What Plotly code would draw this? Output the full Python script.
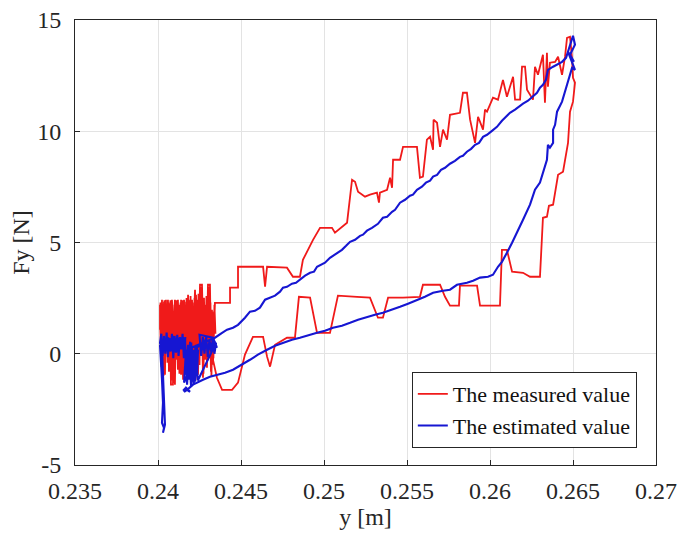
import plotly.graph_objects as go

# ---------------- data ----------------
# Measured value (red): cluster, upper branch, top, lower branch, cluster again
meas_y_pos = [
    0.24012, 0.24012, 0.24018, 0.24024, 0.24030, 0.24036, 0.24042, 0.24048, 0.24054, 0.24060,
    0.24066, 0.24072, 0.24078, 0.24090, 0.24096, 0.24102, 0.24108, 0.24114, 0.24120, 0.24127,
    0.24133, 0.24139, 0.24151, 0.24157, 0.24163, 0.24169, 0.24175, 0.24181, 0.24187, 0.24193,
    0.24199, 0.24205, 0.24211, 0.24223, 0.24229, 0.24235, 0.24241, 0.24247, 0.24253, 0.24265,
    0.24271, 0.24277, 0.24283, 0.24289, 0.24295, 0.24301, 0.24313, 0.24319, 0.24325, 0.24331,
    0.24337, 0.24343,
    # upper branch
    0.24434, 0.24434, 0.24482, 0.24482, 0.24633, 0.24645, 0.24657, 0.24777, 0.24813, 0.24855,
    0.24873, 0.24934, 0.24976, 0.25048, 0.25066, 0.25108, 0.25139, 0.25169, 0.25187, 0.25205,
    0.25247, 0.25277, 0.25319, 0.25331, 0.25337, 0.25380, 0.25398, 0.25410, 0.25416, 0.25458,
    0.25476, 0.25560, 0.25578, 0.25596, 0.25620, 0.25639, 0.25657, 0.25660, 0.25681, 0.25699,
    0.25717, 0.25741, 0.25759, 0.25819, 0.25837, 0.25861, 0.25880, 0.25910, 0.25928, 0.25958,
    0.25970, 0.25982, 0.26018, 0.26048, 0.26078, 0.26102, 0.26139, 0.26151, 0.26181, 0.26193,
    0.26211, 0.26223, 0.26259, 0.26271, 0.26289, 0.26319, 0.26331, 0.26343, 0.26349, 0.26361,
    0.26392, 0.26410, 0.26434, 0.26452, 0.26464, 0.26482, 0.26494, 0.26500, 0.26512, 0.26500,
    0.26482, 0.26470,
    # lower branch
    0.26440, 0.26410, 0.26392, 0.26380, 0.26355, 0.26343, 0.26319, 0.26301, 0.26241, 0.26199,
    0.26133, 0.26102, 0.26072, 0.26060, 0.25940, 0.25922, 0.25819, 0.25813, 0.25759, 0.25729,
    0.25699, 0.25596, 0.25578, 0.25476, 0.25386, 0.25355, 0.25325, 0.25295, 0.25277, 0.25199,
    0.25084, 0.25036, 0.24958, 0.24916, 0.24849, 0.24825, 0.24777, 0.24705, 0.24675, 0.24657,
    0.24633, 0.24572, 0.24524, 0.24482, 0.24446, 0.24386, 0.24355,
    # cluster again (leftwards)
    0.24331, 0.24325, 0.24319, 0.24313, 0.24307, 0.24301, 0.24295, 0.24289, 0.24283, 0.24277,
    0.24271, 0.24265, 0.24259, 0.24253, 0.24247, 0.24241, 0.24235, 0.24229, 0.24223, 0.24217,
    0.24211, 0.24205, 0.24199, 0.24193, 0.24187, 0.24181, 0.24175, 0.24169, 0.24163, 0.24157,
    0.24151, 0.24145, 0.24139, 0.24133, 0.24127, 0.24120, 0.24114, 0.24108, 0.24102, 0.24096,
    0.24084, 0.24078, 0.24072, 0.24066, 0.24060, 0.24054, 0.24048, 0.24042, 0.24036, 0.24030,
    0.24024, 0.24018, 0.24012,
    # cluster once more (rightwards)
    0.24015, 0.24021, 0.24027, 0.24033, 0.24039, 0.24045, 0.24051, 0.24057, 0.24063, 0.24069,
    0.24075, 0.24081, 0.24087, 0.24093, 0.24099, 0.24105, 0.24111, 0.24117, 0.24123, 0.24129,
    0.24136, 0.24142, 0.24148, 0.24154, 0.24160, 0.24166, 0.24172, 0.24178, 0.24184, 0.24190,
    0.24196, 0.24202, 0.24208, 0.24214, 0.24220, 0.24226, 0.24232, 0.24238, 0.24244, 0.24250,
    0.24256, 0.24262, 0.24268, 0.24274, 0.24280, 0.24286, 0.24292, 0.24298, 0.24304, 0.24310,
    0.24316, 0.24322, 0.24328, 0.24334, 0.24340, 0.24346,
]
meas_fy = [
    1.08, 2.20, -0.27, 2.43, 0.40, 2.34, -0.94, 2.20, 0.18, 2.43,
    0.63, 1.98, -1.39, -1.39, 1.53, 2.43, 0.18, 1.53, -0.72, 2.20,
    -0.27, 2.43, -1.17, 1.98, 0.40, 2.34, -0.27, 2.65, 0.63, 2.43,
    -0.72, 2.20, 0.18, 2.88, 0.40, 2.43, -0.94, 1.98, 3.10, 3.10,
    1.08, 2.43, -0.27, 2.20, 0.63, 3.10, 3.10, 0.18, 1.98, -0.49,
    1.53, 2.29,
    # upper branch
    2.29, 2.97, 2.97, 3.91, 3.91, 3.01, 3.91, 3.87, 3.46, 3.46,
    4.22, 5.12, 5.66, 5.66, 5.44, 5.71, 5.89, 7.82, 7.73, 7.28,
    7.06, 7.15, 7.24, 6.79, 7.24, 7.37, 7.91, 7.46, 8.72, 8.72,
    9.30, 9.30, 7.91, 7.96, 9.62, 9.75, 9.17, 10.52, 10.38, 9.30,
    10.07, 9.62, 10.74, 10.83, 11.73, 11.73, 10.52, 9.48, 10.65, 10.07,
    10.97, 10.88, 11.51, 11.42, 12.31, 11.55, 12.45, 11.42, 11.42, 12.90,
    12.90, 11.87, 11.42, 12.90, 12.54, 13.44, 11.28, 13.53, 12.00, 13.08,
    13.12, 13.35, 12.54, 13.35, 14.20, 14.25, 13.30, 12.40, 12.18, 11.33,
    10.88, 9.48,
    # lower branch
    8.18, 8.04, 7.24, 6.70, 6.65, 6.16, 6.11, 3.46, 3.46, 3.64,
    3.69, 4.67, 4.67, 2.16, 2.16, 3.06, 3.06, 2.16, 2.16, 2.56,
    3.10, 3.10, 2.56, 2.52, 2.52, 1.62, 1.62, 2.20, 2.52, 2.56,
    2.61, 0.94, 0.94, 2.52, 2.56, 0.72, 0.72, 0.40, -0.58, -0.13,
    0.76, 0.76, -0.04, -1.30, -1.62, -1.62, -1.08,
    # cluster again (leftwards)
    -0.27, 1.53, -0.81, 2.20, -0.04, 2.43, -0.63, 1.98, 0.40, 2.52,
    -1.08, 1.53, 0.18, 2.43, -0.49, 2.20, 0.63, 2.65, -1.17, 1.75,
    0.40, 2.43, -0.27, 1.98, -0.81, 2.43, 0.63, 2.20, -0.49, 2.43,
    0.18, 1.98, -0.94, 2.20, 0.40, 2.43, -0.27, 1.98, -1.39, 0.63,
    2.43, -0.04, 2.20, -0.81, 1.98, 0.40, 2.43, -0.27, 2.20, 0.63,
    1.98, 0.09, 1.53,
    # cluster once more (rightwards)
    2.30, -0.60, 1.90, -1.00, 2.40, 0.10, 2.10, -0.40, 2.30, 0.90,
    2.40, -1.20, 1.20, -1.30, 2.20, -0.20, 2.40, 0.50, 2.10, -0.90,
    2.30, 0.20, 2.40, -1.10, 1.80, -0.30, 2.50, 0.30, 2.20, -1.00,
    2.60, 0.00, 2.30, -0.70, 2.50, -1.20, 2.20, 0.40, 2.70, -0.50,
    3.00, 0.80, 2.40, -0.90, 2.10, 0.20, 2.60, -0.30, 3.00, 0.60,
    2.30, -1.00, 1.90, -0.20, 2.20, 0.90,
]

# Estimated value (blue): tail, cluster, upper branch, top, lower branch
est_y_pos = [
    # tail
    0.24012, 0.24018, 0.24024, 0.24030, 0.24024, 0.24036, 0.24030, 0.24042, 0.24036, 0.24030,
    0.24024, 0.24012,
    # cluster band
    0.24020, 0.24028, 0.24036, 0.24044, 0.24052, 0.24060, 0.24068, 0.24076, 0.24084, 0.24092,
    0.24100, 0.24108, 0.24116, 0.24124, 0.24132, 0.24140, 0.24148, 0.24156, 0.24164,
    0.24042, 0.24072, 0.24060, 0.24102, 0.24084, 0.24120, 0.24133, 0.24151,
    0.24163, 0.24169, 0.24181, 0.24187, 0.24193, 0.24199, 0.24205, 0.24211, 0.24217, 0.24223,
    0.24229, 0.24235, 0.24241, 0.24157, 0.24169, 0.24175, 0.24187, 0.24199, 0.24211, 0.24223,
    0.24235, 0.24253, 0.24271, 0.24283, 0.24301, 0.24313, 0.24331, 0.24343, 0.24355, 0.24331,
    0.24250, 0.24260, 0.24270, 0.24280, 0.24290, 0.24300, 0.24310, 0.24320, 0.24330, 0.24340,
    0.24350, 0.24240, 0.24225, 0.24215, 0.24200, 0.24190, 0.24180,
    # upper branch
    0.24343, 0.24386, 0.24416, 0.24452, 0.24482, 0.24524, 0.24554, 0.24584, 0.24614, 0.24645,
    0.24675, 0.24705, 0.24735, 0.24753, 0.24777, 0.24807, 0.24831, 0.24855, 0.24886, 0.24916,
    0.24940, 0.24958, 0.24988, 0.25006, 0.25036, 0.25054, 0.25084, 0.25108, 0.25133, 0.25157,
    0.25187, 0.25217, 0.25235, 0.25259, 0.25289, 0.25325, 0.25355, 0.25380, 0.25410, 0.25428,
    0.25458, 0.25488, 0.25518, 0.25536, 0.25560, 0.25590, 0.25614, 0.25639, 0.25657, 0.25681,
    0.25705, 0.25729, 0.25759, 0.25789, 0.25819, 0.25837, 0.25861, 0.25886, 0.25910, 0.25934,
    0.25958, 0.25982, 0.26012, 0.26042, 0.26072, 0.26096, 0.26120, 0.26151, 0.26181, 0.26199,
    0.26229, 0.26259, 0.26283, 0.26301, 0.26319, 0.26337, 0.26349, 0.26380, 0.26410, 0.26434,
    0.26458, 0.26476, 0.26494, 0.26500, 0.26512, 0.26482, 0.26506, 0.26470, 0.26512, 0.26494,
    # lower branch
    0.26464, 0.26434, 0.26404, 0.26392, 0.26380, 0.26380, 0.26361, 0.26349, 0.26343, 0.26313,
    0.26301, 0.26271, 0.26241, 0.26199, 0.26163, 0.26133, 0.26102, 0.26072, 0.26048, 0.26018,
    0.25988, 0.25940, 0.25898, 0.25861, 0.25801, 0.25759, 0.25717, 0.25657, 0.25608, 0.25560,
    0.25506, 0.25458, 0.25410, 0.25355, 0.25307, 0.25259, 0.25205, 0.25157, 0.25108, 0.25054,
    0.25006, 0.24958, 0.24904, 0.24855, 0.24807, 0.24753, 0.24705, 0.24657, 0.24602, 0.24554,
    0.24506, 0.24452, 0.24404, 0.24355, 0.24313, 0.24271, 0.24235, 0.24211, 0.24175, 0.24157,
    0.24169, 0.24193, 0.24163, 0.24151,
]
est_fy = [
    # tail
    0.40, -0.27, -1.17, -2.20, -3.10, -3.33, -3.55, -3.19, -2.07, -0.72,
    0.18, 0.49,
    # cluster band
    0.90, -0.10, 0.80, 0.00, 0.95, -0.15, 0.70, 0.10, 0.90, -0.20,
    0.80, 0.05, 0.85, -0.10, 0.75, 0.20, 0.90, -0.20, 0.70,
    0.63, 0.27, 0.72, 0.40, 0.85, 0.09, 0.63, 0.40,
    0.72, -0.94, 0.40, -1.17, 0.54, -0.81, 0.27, -1.26, 0.18, -0.72,
    0.40, -0.94, 0.18, -1.30, 0.18, -1.39, 0.00, -1.44, -0.04, -1.26,
    0.27, 0.40, 0.18, 0.63, 0.09, 0.40, 0.18, 0.54, 0.27, 0.72,
    0.85, -0.10, 0.75, 0.00, 0.80, -0.15, 0.65, 0.10, 0.70, 0.00,
    0.50, -1.20, 0.30, -1.40, 0.50, -1.10, 0.20,
    # upper branch
    0.72, 0.94, 1.08, 1.17, 1.30, 1.62, 1.89, 1.93, 2.07, 2.43,
    2.52, 2.61, 2.79, 2.97, 3.01, 3.15, 3.19, 3.33, 3.51, 3.64,
    3.69, 3.91, 4.04, 4.09, 4.31, 4.40, 4.58, 4.67, 4.85, 5.03,
    5.12, 5.30, 5.35, 5.53, 5.66, 5.84, 6.11, 6.16, 6.38, 6.47,
    6.79, 6.92, 7.10, 7.15, 7.37, 7.51, 7.69, 7.78, 7.96, 8.04,
    8.27, 8.36, 8.54, 8.67, 8.85, 8.90, 9.08, 9.21, 9.39, 9.48,
    9.75, 9.84, 10.02, 10.20, 10.47, 10.65, 10.83, 10.97, 11.15, 11.24,
    11.37, 11.55, 11.73, 11.96, 12.09, 12.31, 12.76, 12.90, 13.03, 13.12,
    13.30, 13.75, 14.11, 14.29, 13.89, 13.44, 13.12, 13.57, 12.76, 12.85,
    # lower branch
    12.09, 11.33, 10.88, 10.29, 10.07, 9.48, 9.26, 9.39, 8.72, 7.96,
    7.69, 7.37, 6.70, 6.02, 5.44, 4.99, 4.54, 4.13, 3.91, 3.55,
    3.46, 3.42, 3.28, 3.19, 3.10, 2.88, 2.83, 2.74, 2.56, 2.43,
    2.25, 2.11, 1.98, 1.84, 1.75, 1.66, 1.53, 1.39, 1.26, 1.17,
    1.03, 0.94, 0.81, 0.72, 0.63, 0.49, 0.36, 0.18, -0.04, -0.27,
    -0.49, -0.72, -0.85, -0.94, -1.03, -1.17, -1.30, -1.39, -1.62, -1.71,
    -1.53, -1.71, -1.57, -1.66,
]

x_tick_vals = [0.235, 0.24, 0.245, 0.25, 0.255, 0.26, 0.265, 0.27]
x_tick_text = ["0.235", "0.24", "0.245", "0.25", "0.255", "0.26", "0.265", "0.27"]
y_tick_vals = [-5, 0, 5, 10, 15]
y_tick_text = ["-5", "0", "5", "10", "15"]

series_names = ["The measured value", "The estimated value"]
# -------------------------------------------------------------------------

FONT = "Liberation Serif, Times New Roman, serif"
TXT = "#262626"

fig = go.Figure()
fig.add_trace(go.Scatter(x=meas_y_pos, y=meas_fy, mode="lines", name=series_names[0],
                         line=dict(color="#f01a1a", width=1.8)))
fig.add_trace(go.Scatter(x=est_y_pos, y=est_fy, mode="lines", name=series_names[1],
                         line=dict(color="#1616d2", width=2.1)))

axis_common = dict(
    showline=True, linecolor=TXT, linewidth=1, mirror=True,
    ticks="inside", ticklen=5, tickcolor=TXT,
    showgrid=True, gridcolor="#e3e3e3", gridwidth=1,
    zeroline=False, automargin=False, ticklabeloverflow="allow",
    tickfont=dict(family=FONT, size=24, color=TXT),
)

fig.update_layout(
    template="none",
    width=669, height=525,
    margin=dict(l=67, r=21, t=12, b=68),
    paper_bgcolor="white", plot_bgcolor="white",
    font=dict(family=FONT, size=24, color=TXT),
    xaxis=dict(range=[0.235, 0.27], tickvals=x_tick_vals, ticktext=x_tick_text,
               ticklabelstandoff=4,
               title=dict(text="y [m]", font=dict(family=FONT, size=24, color=TXT), standoff=2),
               **axis_common),
    yaxis=dict(range=[-5, 15], tickvals=y_tick_vals, ticktext=y_tick_text,
               ticklabelstandoff=8,
               title=dict(text="Fy [N]", font=dict(family=FONT, size=24, color=TXT), standoff=0),
               **axis_common),
    legend=dict(x=0.967, y=0.038, xanchor="right", yanchor="bottom",
                bgcolor="white", bordercolor="#262626", borderwidth=1,
                font=dict(family=FONT, size=22, color="#111111"),
                tracegroupgap=0, itemwidth=30),
    showlegend=True,
)

fig.write_html("out.html")
